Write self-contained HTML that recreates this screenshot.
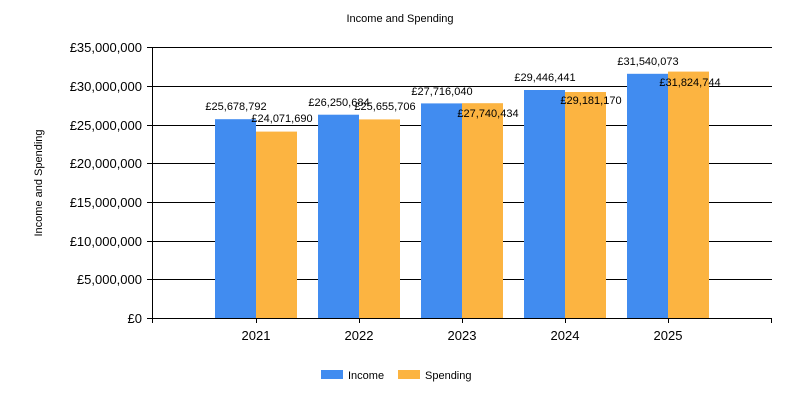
<!DOCTYPE html>
<html><head><meta charset="utf-8"><style>html,body{margin:0;padding:0;background:#fff}svg{display:block}text{font-family:"Liberation Sans",sans-serif;fill:#000}</style></head>
<body>
<svg width="800" height="400" viewBox="0 0 800 400" xmlns="http://www.w3.org/2000/svg">
<text x="400" y="22" font-size="11" text-anchor="middle">Income and Spending</text>
<text transform="translate(42,183) rotate(-90)" font-size="11" text-anchor="middle">Income and Spending</text>
<g stroke="#000" stroke-width="1">
<line x1="147" y1="47.5" x2="772" y2="47.5"/>
<line x1="147" y1="86.5" x2="772" y2="86.5"/>
<line x1="147" y1="125.5" x2="772" y2="125.5"/>
<line x1="147" y1="163.5" x2="772" y2="163.5"/>
<line x1="147" y1="202.5" x2="772" y2="202.5"/>
<line x1="147" y1="241.5" x2="772" y2="241.5"/>
<line x1="147" y1="279.5" x2="772" y2="279.5"/>
</g>
<g font-size="13" text-anchor="end">
<text x="142" y="52">£35,000,000</text>
<text x="142" y="91">£30,000,000</text>
<text x="142" y="130">£25,000,000</text>
<text x="142" y="168">£20,000,000</text>
<text x="142" y="207">£15,000,000</text>
<text x="142" y="246">£10,000,000</text>
<text x="142" y="284">£5,000,000</text>
<text x="142" y="323">£0</text>
</g>
<g fill="#418CF0">
<rect x="215" y="119.2" width="41" height="198.8"/>
<rect x="318" y="114.7" width="41" height="203.3"/>
<rect x="421" y="103.4" width="41" height="214.6"/>
<rect x="524" y="90" width="41" height="228"/>
<rect x="627" y="73.8" width="41" height="244.2"/>
</g>
<g fill="#FCB441">
<rect x="256" y="131.6" width="41" height="186.4"/>
<rect x="359" y="119.4" width="41" height="198.6"/>
<rect x="462" y="103.2" width="41" height="214.8"/>
<rect x="565" y="92" width="41" height="226"/>
<rect x="668" y="71.6" width="41" height="246.4"/>
</g>
<g stroke="#000" stroke-width="1">
<line x1="152.5" y1="47" x2="152.5" y2="323"/>
<line x1="147" y1="318.5" x2="772" y2="318.5"/>
<line x1="256.5" y1="318" x2="256.5" y2="323"/>
<line x1="359.5" y1="318" x2="359.5" y2="323"/>
<line x1="462.5" y1="318" x2="462.5" y2="323"/>
<line x1="565.5" y1="318" x2="565.5" y2="323"/>
<line x1="668.5" y1="318" x2="668.5" y2="323"/>
<line x1="771.5" y1="318" x2="771.5" y2="323"/>
</g>
<g font-size="13" text-anchor="middle">
<text x="256" y="340">2021</text>
<text x="359" y="340">2022</text>
<text x="462" y="340">2023</text>
<text x="565" y="340">2024</text>
<text x="668" y="340">2025</text>
</g>
<g font-size="11" text-anchor="middle">
<text x="236" y="110">£25,678,792</text>
<text x="282" y="122">£24,071,690</text>
<text x="339" y="106">£26,250,684</text>
<text x="385" y="110">£25,655,706</text>
<text x="442" y="95">£27,716,040</text>
<text x="488" y="117">£27,740,434</text>
<text x="545" y="81">£29,446,441</text>
<text x="591" y="104">£29,181,170</text>
<text x="648" y="65">£31,540,073</text>
<text x="690" y="86">£31,824,744</text>
</g>
<rect x="321" y="370" width="22" height="9" fill="#418CF0"/>
<text x="348" y="379" font-size="11">Income</text>
<rect x="398" y="370" width="22" height="9" fill="#FCB441"/>
<text x="425" y="379" font-size="11">Spending</text>
</svg>
</body></html>
